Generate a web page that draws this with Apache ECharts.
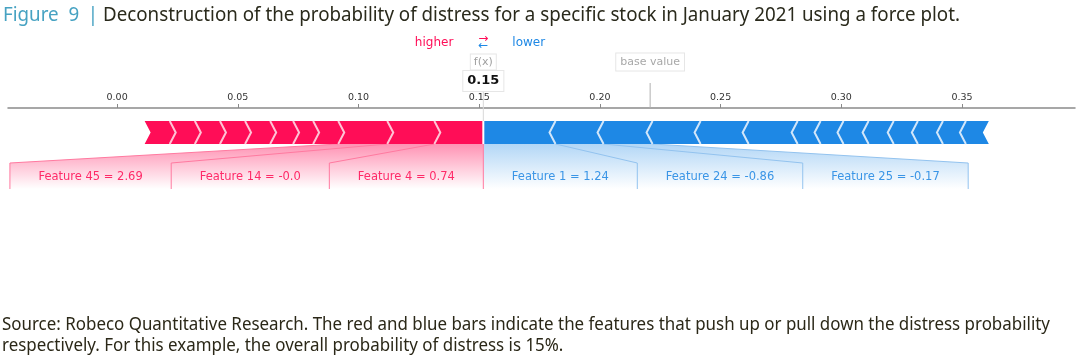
<!DOCTYPE html>
<html><head><meta charset="utf-8">
<script src="https://cdn.jsdelivr.net/npm/echarts@6/dist/echarts.min.js"></script>
<style>html,body{margin:0;padding:0;background:#fff}#c{width:1080px;height:361px}</style>
</head><body><div id="c"></div>
<script>
// ---------- data ----------
const titlePrefix = 'Figure  9';
const titleText = 'Deconstruction of the probability of distress for a specific stock in January 2021 using a force plot.';
const footerLines = [
  'Source: Robeco Quantitative Research. The red and blue bars indicate the features that push up or pull down the distress probability',
  'respectively. For this example, the overall probability of distress is 15%.'
];
const tickValues = [0, 0.05, 0.10, 0.15, 0.20, 0.25, 0.30, 0.35];
const fxValue = 0.1517;
const fxLabel = '0.15';
const baseValue = 0.2208;
// red = push higher (listed from f(x) outward), blue = push lower
const redLabels = ['Feature 4 = 0.74', 'Feature 14 = -0.0', 'Feature 45 = 2.69'];
const redValues = [0.0203, 0.0195, 0.0203, 0.0104, 0.0083, 0.0095, 0.0104, 0.0104, 0.0104, 0.0104, 0.0104];
const blueLabels = ['Feature 1 = 1.24', 'Feature 24 = -0.86', 'Feature 25 = -0.17'];
const blueValues = [0.0299, 0.0199, 0.0203, 0.0199, 0.0199, 0.0203, 0.0095, 0.0095, 0.0104, 0.0104, 0.0100, 0.0104, 0.0095, 0.0095];
const axisMin = -0.0452, axisMax = 0.3968;

// ---------- styles ----------
const RED = '#ff0d57', BLUE = '#1e88e5';
const RED_SEP = '#ffc3d5', BLUE_SEP = '#d1e6fa';
const LABEL_FONT = '11.5px "DejaVu Sans"';
const TITLE_FONT = '20px "Noto Sans"';
const FOOT_FONT = '17.5px "Noto Sans"';
const ctx = document.createElement('canvas').getContext('2d');
function measure(t, f){ ctx.font = f || LABEL_FONT; return ctx.measureText(t).width; }
// horizontal condensing so the sans text matches the condensed face of the original
const titleScale = 857 / measure(titleText, TITLE_FONT);
const footScale = 1048 / measure(footerLines[0], FOOT_FONT);

// ---------- segments ----------
const segs = [];
let cur = fxValue;
redValues.forEach((v, i) => { segs.push([cur - v, cur, 0, i, redValues.length]); cur -= v; });
cur = fxValue;
blueValues.forEach((v, i) => { segs.push([cur, cur + v, 1, i, blueValues.length]); cur += v; });

function renderBar(params, api){
  const x0 = api.coord([api.value(0), 0])[0];
  const x1 = api.coord([api.value(1), 0])[0];
  const side = api.value(2), idx = api.value(3), n = api.value(4);
  const axisY = api.coord([0, 0])[1];
  const top = axisY + 13, bot = axisY + 36, mid = (top + bot) / 2, tip = 6;
  let pts, sep = null;
  if (side === 0) {
    const right = idx === 0 ? [[x1 - 1, top], [x1 - 1, bot]] : [[x1, top], [x1 + tip, mid], [x1, bot]];
    pts = [[x0, top]].concat(right, [[x0, bot], [x0 + tip, mid]]);
    if (idx < n - 1) sep = [[x0, top], [x0 + tip, mid], [x0, bot]];
  } else {
    const left = idx === 0 ? [[x0 + 1, bot], [x0 + 1, top]] : [[x0, bot], [x0 - tip, mid], [x0, top]];
    pts = [[x1, top], [x1 - tip, mid], [x1, bot]].concat(left);
    if (idx < n - 1) sep = [[x1, top], [x1 - tip, mid], [x1, bot]];
  }
  const children = [{ type: 'polygon', shape: { points: pts }, style: { fill: side === 0 ? RED : BLUE } }];
  if (sep) children.push({ type: 'polyline', z2: 10, shape: { points: sep }, style: { stroke: side === 0 ? RED_SEP : BLUE_SEP, lineWidth: 2, fill: null } });
  return { type: 'group', children };
}

function renderLabels(params, api){
  const side = api.value(0);
  const labels = side === 0 ? redLabels : blueLabels;
  const vals = side === 0 ? redValues : blueValues;
  const dir = side === 0 ? -1 : 1;
  const axisY = api.coord([0, 0])[1];
  const barBot = axisY + 36, boxTop = axisY + 55, boxBot = axisY + 81, textY = axisY + 69;
  const fxX = api.coord([fxValue, 0])[0];
  const textColor = side === 0 ? '#ff2a68' : '#3a95e6';
  const lineColor = side === 0 ? '#ff7aa0' : '#93c3ef';
  const children = [];
  let cum = fxValue, boxEdge = fxX, lastSeg = fxX;
  labels.forEach((lab, i) => {
    cum += dir * vals[i];
    const segX = api.coord([cum, 0])[0];
    const w = measure(lab) + 57;
    const newEdge = boxEdge + dir * w;
    children.push({ type: 'text', z2: 5, style: { text: lab, x: (boxEdge + newEdge) / 2, y: textY, align: 'center', verticalAlign: 'middle', fill: textColor, font: LABEL_FONT } });
    children.push({ type: 'polyline', z2: 4, shape: { points: [[segX, barBot], [newEdge, boxTop], [newEdge, boxBot]] }, style: { stroke: lineColor, lineWidth: 1, fill: null } });
    boxEdge = newEdge; lastSeg = segX;
  });
  const gradColor = side === 0 ? [ 'rgba(255,13,87,0.45)', 'rgba(255,13,87,0.0)' ] : [ 'rgba(30,136,229,0.34)', 'rgba(30,136,229,0.0)' ];
  children.unshift({ type: 'polygon', z2: 1, shape: { points: [[fxX, barBot], [lastSeg, barBot], [boxEdge, boxTop], [boxEdge, boxBot], [fxX, boxBot]] },
    style: { fill: { type: 'linear', x: 0, y: 0, x2: 0, y2: 1, colorStops: [{ offset: 0, color: gradColor[0] }, { offset: 1, color: gradColor[1] }] } } });
  if (side === 0) children.push({ type: 'line', z2: 6, shape: { x1: fxX, y1: barBot, x2: fxX, y2: boxBot }, style: { stroke: '#ff7aa0', lineWidth: 1 } });
  return { type: 'group', children };
}

function renderMarkers(params, api){
  const axisY = api.coord([0, 0])[1];
  const fxX = api.coord([fxValue, 0])[0];
  const bX = api.coord([baseValue, 0])[0];
  const small = '11px "DejaVu Sans"';
  return { type: 'group', children: [
    { type: 'line', shape: { x1: bX, y1: axisY - 25, x2: bX, y2: axisY }, style: { stroke: '#b0b0b0', lineWidth: 1 } },
    { type: 'text', style: { text: 'base value', x: bX, y: axisY - 46, align: 'center', verticalAlign: 'middle', fill: '#a8a8a8', font: small,
        borderColor: '#e6e6e6', borderWidth: 1, backgroundColor: '#fff', padding: [3, 4, 3, 4] } },
    { type: 'line', shape: { x1: fxX, y1: axisY - 18, x2: fxX, y2: axisY + 13 }, style: { stroke: '#d8d8d8', lineWidth: 1 } },
    { type: 'text', style: { text: 'f(x)', x: fxX, y: axisY - 46, align: 'center', verticalAlign: 'middle', fill: '#a0a0a0', font: small,
        borderColor: '#e6e6e6', borderWidth: 1, backgroundColor: '#fff', padding: [2, 3, 2, 3] } },
    { type: 'text', style: { text: fxLabel, x: fxX, y: axisY - 27, align: 'center', verticalAlign: 'middle', fill: '#111', font: 'bold 13px "DejaVu Sans"',
        borderColor: '#e6e6e6', borderWidth: 1, backgroundColor: '#fff', padding: [3, 4, 4, 4] } },
    { type: 'text', style: { text: 'higher', x: fxX - 30, y: axisY - 65, align: 'right', verticalAlign: 'middle', fill: RED, font: '12px "DejaVu Sans"' } },
    { type: 'text', style: { text: 'lower', x: fxX + 29, y: axisY - 65, align: 'left', verticalAlign: 'middle', fill: BLUE, font: '12px "DejaVu Sans"' } },
    { type: 'text', style: { text: '\u2192', x: fxX, y: axisY - 69, align: 'center', verticalAlign: 'middle', fill: RED, font: '12px "DejaVu Sans"' } },
    { type: 'text', style: { text: '\u2190', x: fxX, y: axisY - 62, align: 'center', verticalAlign: 'middle', fill: BLUE, font: '12px "DejaVu Sans"' } }
  ] };
}

const chart = echarts.init(document.getElementById('c'), null, { renderer: 'canvas' });
chart.setOption({
  animation: false,
  backgroundColor: '#fff',
  graphic: [
    { type: 'text', x: 3, y: 15, scaleX: titleScale, style: { text: titlePrefix, x: 0, y: 0, align: 'left', verticalAlign: 'middle', font: TITLE_FONT, fill: '#46a2c2' } },
    { type: 'text', x: 93, y: 15, scaleX: titleScale, style: { text: '|', x: 0, y: 0, align: 'center', verticalAlign: 'middle', font: TITLE_FONT, fill: '#46a2c2' } },
    { type: 'text', x: 103, y: 15, scaleX: titleScale, style: { text: titleText, x: 0, y: 0, align: 'left', verticalAlign: 'middle', font: TITLE_FONT, fill: '#2a2a1c' } },
    { type: 'text', x: 2, y: 325, scaleX: footScale, style: { text: footerLines[0], x: 0, y: 0, align: 'left', verticalAlign: 'middle', font: FOOT_FONT, fill: '#2b2818' } },
    { type: 'text', x: 2, y: 346, scaleX: footScale, style: { text: footerLines[1], x: 0, y: 0, align: 'left', verticalAlign: 'middle', font: FOOT_FONT, fill: '#2b2818' } }
  ],
  grid: { left: 8, right: 5, top: 108, height: 100 },
  xAxis: { type: 'value', position: 'top', min: axisMin, max: axisMax, splitLine: { show: false },
    axisLine: { lineStyle: { color: '#8a8a8a', width: 1.5 } },
    axisTick: { show: true, length: 4, customValues: tickValues, lineStyle: { color: '#8a8a8a' } },
    axisLabel: { customValues: tickValues, formatter: v => v.toFixed(2), color: '#333', fontSize: 9.5, fontFamily: 'DejaVu Sans', margin: 5 } },
  yAxis: { type: 'value', min: 0, max: 100, inverse: true, show: false },
  series: [
    { type: 'custom', name: 'bars', renderItem: renderBar, data: segs, clip: false, z: 3 },
    { type: 'custom', name: 'labels', renderItem: renderLabels, data: [[0], [1]], clip: false, z: 2 },
    { type: 'custom', name: 'markers', renderItem: renderMarkers, data: [[0]], clip: false, z: 4 }
  ]
});
</script></body></html>
